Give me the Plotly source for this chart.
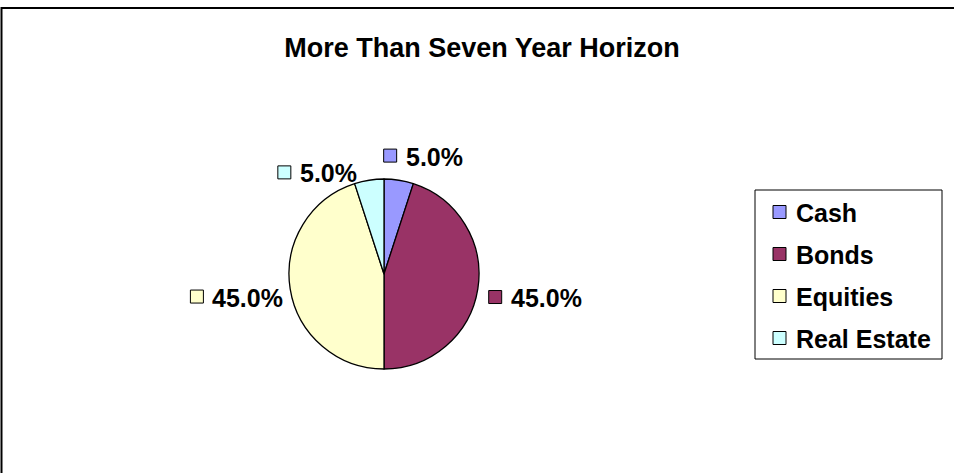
import math
import plotly.graph_objects as go

# ---- data ----
categories = ["Cash", "Bonds", "Equities", "Real Estate"]
shares = [5.0, 45.0, 45.0, 5.0]
colors = ["#9999FF", "#993366", "#FFFFCC", "#CCFFFF"]
chart_title = "More Than Seven Year Horizon"

# ---- layout helpers ----
W, H = 954, 473
FONT = "Liberation Sans, Arial, sans-serif"


def px(x):
    return x / W


def py(y):
    return 1 - y / H


# Liberation Sans Bold advance widths (em)
CW = {str(d): 0.556 for d in range(10)}
CW.update({".": 0.278, "%": 0.889, " ": 0.278})


def text_w(s, size):
    return sum(CW.get(c, 0.6) for c in s) * size


cx, cy, R = 384, 274, 95

fig = go.Figure(
    go.Pie(
        labels=categories,
        values=shares,
        sort=False,
        direction="clockwise",
        rotation=0,
        marker=dict(colors=colors, line=dict(color="black", width=1.3)),
        textinfo="none",
        hoverinfo="label+percent",
        showlegend=False,
        domain=dict(x=[px(cx - R), px(cx + R)], y=[py(cy + R), py(cy - R)]),
    )
)

shapes = []
annotations = []

# outer chart border (left + top visible, rest cropped)
shapes.append(dict(type="rect", xref="paper", yref="paper",
                   x0=px(1.5), x1=px(W + 10), y0=py(8), y1=py(H + 10),
                   line=dict(color="black", width=2), fillcolor="rgba(0,0,0,0)"))

# data labels with key squares (style: radial distance & horizontal alignment)
label_radius = [110, 106, 103, 93]
label_align = [0.55, 1.0, -1.0, -1.35]
LFS = 25
SQ = 13
GAP = 8
total = sum(shares)
cum = 0.0
for i, (cat, v, col) in enumerate(zip(categories, shares, colors)):
    mid = (cum + v / 2) / total * 2 * math.pi
    cum += v
    txt = f"{v / total * 100:.1f}%"
    tw = text_w(txt, LFS)
    gw = SQ + GAP + tw
    s, c = math.sin(mid), math.cos(mid)
    r = label_radius[i]
    ax = cx + r * s
    ay = cy - r * c
    gcx = ax + gw / 2 * label_align[i]
    gcy = ay - 10 * c + 5 * s * s
    left = gcx - gw / 2
    shapes.append(dict(type="rect", xref="paper", yref="paper",
                       x0=px(left), x1=px(left + SQ),
                       y0=py(gcy + SQ / 2), y1=py(gcy - SQ / 2),
                       line=dict(color="black", width=1), fillcolor=col))
    annotations.append(dict(text=f"<b>{txt}</b>", xref="paper", yref="paper",
                            x=px(left + SQ + GAP - 1), y=py(gcy + 1),
                            xanchor="left", yanchor="middle", showarrow=False,
                            font=dict(family=FONT, size=LFS, color="black")))

# custom legend
LG_X0, LG_X1, LG_Y0, LG_Y1 = 755, 942, 190, 359
shapes.append(dict(type="rect", xref="paper", yref="paper",
                   x0=px(LG_X0), x1=px(LG_X1), y0=py(LG_Y1), y1=py(LG_Y0),
                   line=dict(color="black", width=1), fillcolor="white"))
step = 42
for i, (cat, col) in enumerate(zip(categories, colors)):
    yc = 212 + i * step
    shapes.append(dict(type="rect", xref="paper", yref="paper",
                       x0=px(773), x1=px(786), y0=py(yc + 6.5), y1=py(yc - 6.5),
                       line=dict(color="black", width=1), fillcolor=col))
    annotations.append(dict(text=f"<b>{cat}</b>", xref="paper", yref="paper",
                            x=px(794), y=py(yc + 1), xanchor="left", yanchor="middle",
                            showarrow=False,
                            font=dict(family=FONT, size=LFS, color="black")))

fig.update_layout(
    width=W, height=H, autosize=False,
    margin=dict(l=0, r=0, t=0, b=0),
    paper_bgcolor="white", plot_bgcolor="white",
    title=dict(text=f"<b>{chart_title}</b>", x=px(482), y=py(48), xanchor="center",
               yanchor="middle", xref="paper", yref="paper",
               font=dict(family=FONT, size=27, color="black")),
    shapes=shapes,
    annotations=annotations,
    showlegend=False,
)

fig.write_html(
    "out.html",
    config={"displayModeBar": False},
    post_script="document.body.style.margin='0';document.body.style.overflow='hidden';",
)
